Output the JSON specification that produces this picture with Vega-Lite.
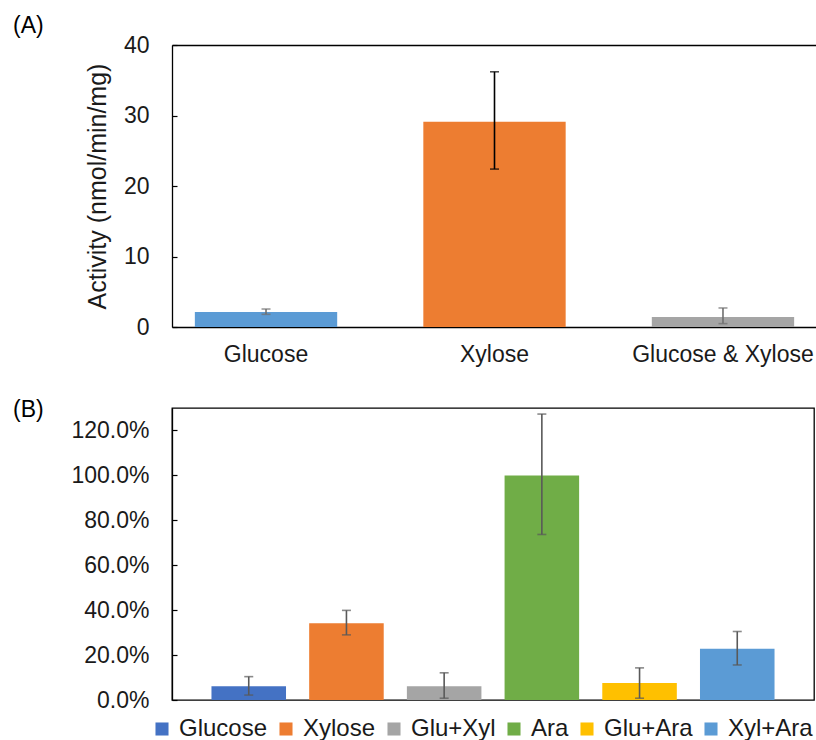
{
  "$schema": "https://vega.github.io/schema/vega-lite/v6.json",
  "background": "white",
  "padding": {"left": 12, "top": 15, "right": 0, "bottom": 0},
  "bounds": "flush",
  "spacing": 81,
  "resolve": {"scale": {"color": "independent"}},
  "datasets": {
    "a": [
      {"sugar": "Glucose", "activity": 2.13, "lo": 1.8, "hi": 2.55},
      {"sugar": "Xylose", "activity": 29.1, "lo": 22.4, "hi": 36.2},
      {"sugar": "Glucose & Xylose", "activity": 1.42, "lo": 0.48, "hi": 2.7}
    ],
    "b": [
      {"sugar": "Glucose", "rel": 0.061, "lo": 0.022, "hi": 0.104},
      {"sugar": "Xylose", "rel": 0.342, "lo": 0.29, "hi": 0.399},
      {"sugar": "Glu+Xyl", "rel": 0.061, "lo": 0.008, "hi": 0.121},
      {"sugar": "Ara", "rel": 1.0, "lo": 0.737, "hi": 1.273},
      {"sugar": "Glu+Ara", "rel": 0.076, "lo": 0.008, "hi": 0.143},
      {"sugar": "Xyl+Ara", "rel": 0.228, "lo": 0.156, "hi": 0.305}
    ]
  },
  "config": {
    "font": "Liberation Sans",
    "view": {"stroke": null},
    "axis": {
      "labelFont": "Liberation Sans", "labelFontSize": 23, "labelColor": "#1a1a1a",
      "domainColor": "#000", "domainWidth": 1.3, "tickColor": "#000", "tickWidth": 1.2,
      "grid": false, "titleFont": "Liberation Sans", "titleFontWeight": "normal", "titleColor": "#1a1a1a"
    },
    "title": {"font": "Liberation Sans", "fontSize": 23, "fontWeight": "normal", "color": "#000", "anchor": "start", "frame": "group"},
    "legend": {
      "direction": "horizontal", "title": null, "symbolType": "square",
      "symbolSize": 170, "labelFontSize": 24, "labelFont": "Liberation Sans", "labelColor": "#1a1a1a",
      "columnPadding": 6, "labelOffset": 5, "symbolStrokeWidth": 0
    }
  },
  "vconcat": [
    {
      "width": 645,
      "height": 282,
      "title": {"text": "(A)", "dx": -159, "offset": -4},
      "data": {"name": "a"},
      "layer": [
        {
          "mark": {"type": "bar"},
          "encoding": {
            "x": {"field": "sugar", "type": "nominal", "sort": null,
                  "scale": {"paddingInner": 0.377, "paddingOuter": 0.1},
                  "axis": {"orient": "bottom", "title": null, "ticks": false, "labelAngle": 0, "labelPadding": 16, "labelFontSize": 23, "labelLimit": 400}},
            "y": {"field": "activity", "type": "quantitative",
                  "scale": {"domain": [0, 40], "nice": false},
                  "axis": {"orient": "left", "title": "Activity (nmol/min/mg)", "titleFontSize": 25, "titlePadding": 13,
                           "values": [0, 2.5, 5, 7.5, 10, 12.5, 15, 17.5, 20, 22.5, 25, 27.5, 30, 32.5, 35, 37.5, 40],
                           "labelExpr": "datum.value % 10 === 0 ? datum.label : ''",
                           "tickSize": -5, "labelPadding": 28, "labelOverlap": false}},
            "color": {"field": "sugar", "type": "nominal",
                      "scale": {"domain": ["Glucose", "Xylose", "Glucose & Xylose"], "range": ["#5B9BD5", "#ED7D31", "#A5A5A5"]},
                      "legend": null}
          }
        },
        {
          "mark": {"type": "rule", "strokeWidth": 1.6},
          "encoding": {
            "x": {"field": "sugar", "type": "nominal", "sort": null,
                  "scale": {"paddingInner": 0.377, "paddingOuter": 0.1},
                  "axis": {"orient": "top", "labels": false, "ticks": false, "title": null, "domain": true}},
            "y": {"field": "lo", "type": "quantitative", "scale": {"domain": [0, 40], "nice": false}},
            "y2": {"field": "hi"},
            "color": {"condition": {"test": "datum.sugar === 'Xylose'", "value": "#000000"}, "value": "#6f6f6f"}
          }
        },
        {
          "mark": {"type": "tick", "size": 9, "thickness": 1.6},
          "encoding": {
            "x": {"field": "sugar", "type": "nominal", "sort": null,
                  "scale": {"paddingInner": 0.377, "paddingOuter": 0.1}, "axis": null},
            "y": {"field": "lo", "type": "quantitative", "scale": {"domain": [0, 40], "nice": false}},
            "color": {"condition": {"test": "datum.sugar === 'Xylose'", "value": "#000000"}, "value": "#6f6f6f"}
          }
        },
        {
          "mark": {"type": "tick", "size": 9, "thickness": 1.6},
          "encoding": {
            "x": {"field": "sugar", "type": "nominal", "sort": null,
                  "scale": {"paddingInner": 0.377, "paddingOuter": 0.1}, "axis": null},
            "y": {"field": "hi", "type": "quantitative", "scale": {"domain": [0, 40], "nice": false}},
            "color": {"condition": {"test": "datum.sugar === 'Xylose'", "value": "#000000"}, "value": "#6f6f6f"}
          }
        }
      ]
    },
    {
      "width": 642,
      "height": 292,
      "view": {"stroke": "#000", "strokeWidth": 1.3},
      "title": {"text": "(B)", "dx": -159, "offset": 0, "dy": 14},
      "data": {"name": "b"},
      "layer": [
        {
          "mark": {"type": "bar"},
          "encoding": {
            "x": {"field": "sugar", "type": "nominal", "sort": null,
                  "scale": {"paddingInner": 0.237, "paddingOuter": 0.404},
                  "axis": {"title": null, "labels": false, "ticks": false, "domain": true}},
            "y": {"field": "rel", "type": "quantitative",
                  "scale": {"domain": [0, 1.3], "nice": false},
                  "axis": {"title": null, "orient": "left",
                           "values": [0, 0.1, 0.2, 0.3, 0.4, 0.5, 0.6, 0.7, 0.8, 0.9, 1.0, 1.1, 1.2],
                           "labelExpr": "round(datum.value * 100) % 20 === 0 ? format(datum.value, '.1%') : ''",
                           "tickSize": -5, "labelPadding": 28, "labelOverlap": false}},
            "color": {"field": "sugar", "type": "nominal",
                      "scale": {"domain": ["Glucose", "Xylose", "Glu+Xyl", "Ara", "Glu+Ara", "Xyl+Ara"],
                                "range": ["#4472C4", "#ED7D31", "#A5A5A5", "#70AD47", "#FFC000", "#5B9BD5"]},
                      "legend": {"orient": "none", "legendX": -22, "legendY": 309}}
          }
        },
        {
          "mark": {"type": "rule", "strokeWidth": 1.6, "color": "#595959"},
          "encoding": {
            "x": {"field": "sugar", "type": "nominal", "sort": null,
                  "scale": {"paddingInner": 0.237, "paddingOuter": 0.404}, "axis": null},
            "y": {"field": "lo", "type": "quantitative", "scale": {"domain": [0, 1.3], "nice": false}},
            "y2": {"field": "hi"}
          }
        },
        {
          "mark": {"type": "tick", "size": 9, "thickness": 1.6, "color": "#595959"},
          "encoding": {
            "x": {"field": "sugar", "type": "nominal", "sort": null,
                  "scale": {"paddingInner": 0.237, "paddingOuter": 0.404}, "axis": null},
            "y": {"field": "lo", "type": "quantitative", "scale": {"domain": [0, 1.3], "nice": false}}
          }
        },
        {
          "mark": {"type": "tick", "size": 9, "thickness": 1.6, "color": "#595959"},
          "encoding": {
            "x": {"field": "sugar", "type": "nominal", "sort": null,
                  "scale": {"paddingInner": 0.237, "paddingOuter": 0.404}, "axis": null},
            "y": {"field": "hi", "type": "quantitative", "scale": {"domain": [0, 1.3], "nice": false}}
          }
        }
      ]
    }
  ]
}
